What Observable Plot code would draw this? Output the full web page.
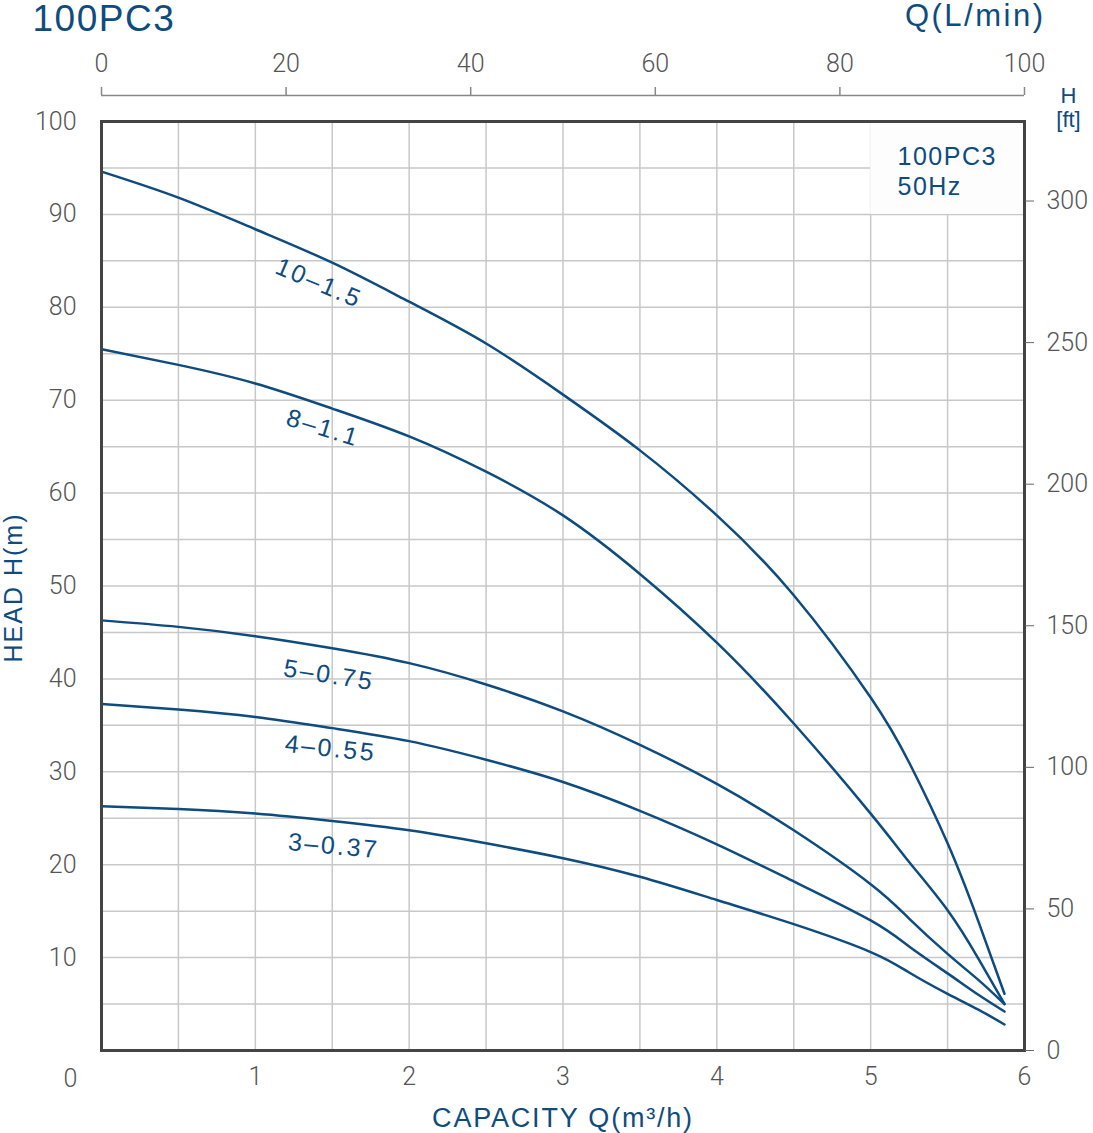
<!DOCTYPE html>
<html>
<head>
<meta charset="utf-8">
<script src="https://cdn.jsdelivr.net/npm/d3@7"></script>
<script src="https://cdn.jsdelivr.net/npm/@observablehq/plot@0.6"></script>
<style>
  html, body { margin: 0; padding: 0; background: #fff; }
</style>
</head>
<body>
<div id="chart"></div>
<script>
// ---- data ----
const flowQ = [0, 0.5, 1, 1.5, 2, 2.5, 3, 3.5, 4, 4.5, 5, 5.25, 5.5, 5.7, 5.87]; // m³/h
const head_10_15 = [94.6, 91.8, 88.4, 84.8, 80.6, 76.1, 70.6, 64.6, 57.6, 49.0, 38.0, 31.0, 22.3, 13.9, 6.1];
const head_8_11  = [75.5, 73.8, 71.8, 69.1, 66.1, 62.3, 57.6, 51.3, 43.9, 35.2, 25.5, 20.3, 15.1, 9.9, 5.0];
const head_5_075 = [46.3, 45.6, 44.6, 43.3, 41.7, 39.4, 36.5, 32.9, 28.7, 23.7, 17.9, 14.2, 10.4, 7.6, 5.0];
const head_4_055 = [37.3, 36.7, 35.9, 34.7, 33.3, 31.3, 28.9, 25.8, 22.2, 18.2, 14.0, 11.2, 8.3, 6.0, 4.2];
const head_3_037 = [26.3, 26.0, 25.5, 24.7, 23.7, 22.3, 20.7, 18.7, 16.2, 13.6, 10.6, 8.4, 6.1, 4.4, 2.8];

const seriesNames = ["10–1.5", "8–1.1", "5–0.75", "4–0.55", "3–0.37"];
const seriesHeads = [head_10_15, head_8_11, head_5_075, head_4_055, head_3_037];
const labelQ = [1.413, 1.44, 1.479, 1.489, 1.51];
const labelH = [82.6, 67.0, 40.4, 32.5, 22.0];
const labelAngle = [23, 17, 9, 6, 5];

const headTicksM = [10, 20, 30, 40, 50, 60, 70, 80, 90, 100];
const capTicksM3h = [1, 2, 3, 4, 5, 6];
const originTick = [0];
const lpmTicks = [0, 20, 40, 60, 80, 100];
const ftTicks = [0, 50, 100, 150, 200, 250, 300];

const modelName = "100PC3";
const legendLines = "100PC3\n50Hz";

// ---- derived ----
const xMax = 6, yMax = 100;
const gridStepX = 0.5, gridStepY = 5;
const lpmPerM3h = 1000 / 60;
const mPerFt = 0.3048;
const blue = "#0e4c7f";
const gray = "#555";
const numFont = "Roboto, 'Liberation Sans', sans-serif";
const txtFont = "'Liberation Sans', Arial, sans-serif";

const rows = seriesNames.flatMap((name, i) =>
  flowQ.map((q, j) => ({series: name, q, h: seriesHeads[i][j]})));
const labels = seriesNames.map((name, i) =>
  ({name, q: labelQ[i], h: labelH[i], angle: labelAngle[i]}));
const legendBox = [{x1: xMax - 2 * gridStepX, x2: xMax, y1: yMax - 2 * gridStepY, y2: yMax}];

const chart = Plot.plot({
  width: 1093,
  height: 1133,
  marginLeft: 101,
  marginRight: 69,
  marginTop: 121,
  marginBottom: 83,
  x: {domain: [0, xMax]},
  y: {domain: [0, yMax]},
  style: {fontFamily: numFont, fontSize: "25px", background: "white", color: gray},
  marks: [
    Plot.gridX(d3.range(0, xMax + 1e-9, gridStepX), {stroke: "#c8c8c8", strokeOpacity: 1, strokeWidth: 1.5}),
    Plot.gridY(d3.range(0, yMax + 1e-9, gridStepY), {stroke: "#c8c8c8", strokeOpacity: 1, strokeWidth: 1.5}),
    Plot.rect(legendBox, {x1: "x1", x2: "x2", y1: "y1", y2: "y2", fill: "#fdfdfd"}),
    Plot.line(rows, {x: "q", y: "h", z: "series", stroke: blue, strokeWidth: 2.5, curve: "natural"}),
    Plot.text(labels, {x: "q", y: "h", text: "name", rotate: "angle", fill: blue, fontSize: 25,
      fontFamily: txtFont, textAnchor: "middle", lineAnchor: "middle"}),
    Plot.frame({stroke: "#444", strokeWidth: 3}),
    // left axis (m)
    Plot.axisY({anchor: "left", ticks: headTicksM, tickSize: 0, tickPadding: 25, tickFormat: d => d,
      color: gray, fontSize: 25, fontWeight: 300, label: null}),
    // bottom axis (m³/h)
    Plot.axisX({anchor: "bottom", ticks: capTicksM3h, tickSize: 0, tickPadding: 17, tickFormat: d => d,
      color: gray, fontSize: 25, fontWeight: 300, label: null}),
    Plot.text(originTick, {x: d => d, y: d => d, text: d => String(d), dx: -31, dy: 28,
      fill: gray, fontSize: 25, fontWeight: 300, lineAnchor: "middle"}),
    // right axis (ft)
    Plot.axisY({anchor: "right", ticks: ftTicks.map(f => f * mPerFt), tickFormat: d => Math.round(d / mPerFt),
      tickSize: 9, tickPadding: 13, color: gray, stroke: "#666", fontSize: 25, fontWeight: 300, label: null}),
    // top axis (L/min)
    Plot.ruleY([yMax], {dy: -26, stroke: "#888", strokeWidth: 1.5}),
    Plot.ruleX(lpmTicks, {x: d => d / lpmPerM3h, y1: yMax, y2: yMax, insetTop: -8, dy: -26,
      stroke: "#888", strokeWidth: 1.5}),
    Plot.text(lpmTicks, {x: d => d / lpmPerM3h, y: yMax, text: d => String(d), dy: -57.5,
      fill: gray, fontSize: 25, fontWeight: 300, lineAnchor: "middle"}),
    // titles and axis titles
    Plot.text([modelName], {frameAnchor: "top-left", dx: -69, dy: -102, textAnchor: "start",
      lineAnchor: "middle", fill: blue, fontSize: 37, fontFamily: txtFont}),
    Plot.text(["Q(L/min)"], {frameAnchor: "top-right", dx: 21, dy: -105, textAnchor: "end",
      lineAnchor: "middle", fill: blue, fontSize: 31, fontFamily: txtFont}),
    Plot.text(["H"], {frameAnchor: "top-right", dx: 44, dy: -26, textAnchor: "middle",
      lineAnchor: "middle", fill: blue, fontSize: 22, fontFamily: txtFont}),
    Plot.text(["[ft]"], {frameAnchor: "top-right", dx: 44, dy: -2, textAnchor: "middle",
      lineAnchor: "middle", fill: blue, fontSize: 22, fontFamily: txtFont}),
    Plot.text(["HEAD H(m)"], {frameAnchor: "left", rotate: -90, dx: -88, dy: 1.5, textAnchor: "middle",
      lineAnchor: "middle", fill: blue, fontSize: 25, fontFamily: txtFont}),
    Plot.text(["CAPACITY Q(m³/h)"], {frameAnchor: "bottom", dy: 67.5, textAnchor: "middle",
      lineAnchor: "middle", fill: blue, fontSize: 27, fontFamily: txtFont}),
    Plot.text([legendLines], {frameAnchor: "top-right", dx: -127, dy: 22, textAnchor: "start",
      lineAnchor: "top", lineHeight: 1.2, fill: blue, fontSize: 25, fontFamily: txtFont})
  ]
});

// letter spacing of the blue texts (Plot has no option for it)
const spacing = new Map([
  ["100PC3", "1.5px"], ["Q(L/min)", "2.5px"], ["HEAD H(m)", "2px"],
  ["CAPACITY Q(m³/h)", "1.8px"], ["100PC350Hz", "1.5px"]
]);
seriesNames.forEach(n => spacing.set(n, "2.5px"));
d3.select(chart).selectAll("text").each(function () {
  const s = spacing.get(this.textContent);
  if (s) this.setAttribute("letter-spacing", s);
});

document.getElementById("chart").appendChild(chart);
</script>
</body>
</html>
